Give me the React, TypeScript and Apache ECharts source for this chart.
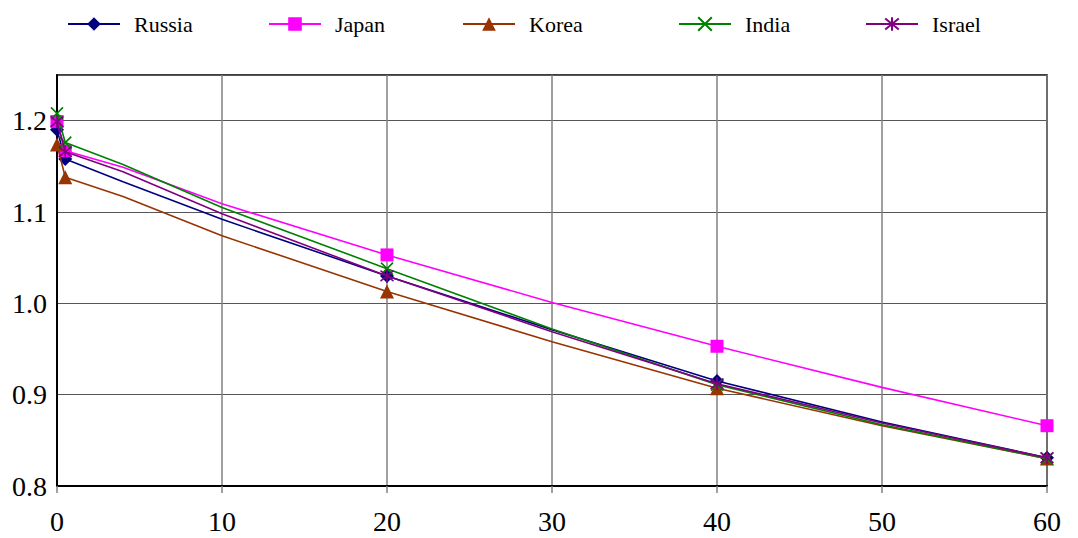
import React, { useEffect, useRef } from 'react';
import * as echarts from 'echarts';

const xValues = [0, 0.5, 4, 10, 20, 30, 40, 50, 60];
const markerX = [0, 0.5, 20, 40, 60];
const seriesNames = ['Russia', 'Japan', 'Korea', 'India', 'Israel'];
const russia = [1.19, 1.158, 1.133, 1.092, 1.03, 0.971, 0.915, 0.87, 0.831];
const japan = [1.199, 1.167, 1.149, 1.109, 1.053, 1.001, 0.953, 0.908, 0.866];
const korea = [1.174, 1.138, 1.117, 1.074, 1.013, 0.958, 0.907, 0.866, 0.83];
const india = [1.208, 1.176, 1.152, 1.105, 1.038, 0.972, 0.911, 0.867, 0.83];
const israel = [1.199, 1.166, 1.144, 1.098, 1.03, 0.969, 0.912, 0.869, 0.831];
const yTickLabels = ['0.8', '0.9', '1.0', '1.1', '1.2'];

const colors = ['#000080', '#FF00FF', '#993300', '#008000', '#800080'];
const symbols = [
  'diamond',
  'rect',
  'triangle',
  'path://M0,0L10,10M10,0L0,10',
  'path://M5,0L5,10M0,1L10,9M10,1L0,9',
];
const symbolSizes = [14, 13, 14, 12, 13];
const legendLeft = [67, 268, 462, 678, 865];

const FONT = '"Liberation Serif", "Times New Roman", serif';

export default function App() {
  const ref = useRef<HTMLDivElement>(null);
  useEffect(() => {
    if (!ref.current) return;
    const chart = echarts.init(ref.current, null, { renderer: 'svg' });
    const all = [russia, japan, korea, india, israel];
    const series = all.map((vals, i) => ({
      name: seriesNames[i],
      type: 'line',
      data: xValues.map((x, j) => [x, vals[j]]),
      symbol: symbols[i],
      symbolSize: (v: number[]) => (markerX.includes(v[0]) ? symbolSizes[i] : 0),
      showAllSymbol: true,
      lineStyle: { color: colors[i], width: 1.6 },
      itemStyle: {
        color: colors[i],
        borderColor: colors[i],
        borderWidth: i >= 3 ? 1.6 : 0,
      },
      z: 3 + i,
    }));
    chart.setOption({
      animation: false,
      textStyle: { fontFamily: FONT },
      legend: seriesNames.map((n, i) => ({
        data: [n],
        left: legendLeft[i],
        top: 13,
        padding: 0,
        itemWidth: 52,
        itemHeight: 17,
        textStyle: { fontFamily: FONT, fontSize: 22, color: '#000', padding: [0, 0, 0, 9] },
      })),
      grid: {
        left: 57,
        right: 31,
        top: 75,
        bottom: 52,
        show: true,
        borderColor: '#000',
        borderWidth: 1.5,
      },
      xAxis: {
        type: 'value',
        min: 0,
        max: 60,
        interval: 10,
        axisLine: { show: true, lineStyle: { color: '#000', width: 2 } },
        axisTick: { show: true, length: 7, lineStyle: { color: '#808080', width: 1.5 } },
        axisLabel: { fontFamily: FONT, fontSize: 28, color: '#000', margin: 21 },
        splitLine: { show: true, lineStyle: { color: '#808080', width: 1.5 } },
      },
      yAxis: {
        type: 'value',
        min: 0.8,
        max: 1.25,
        interval: 0.1,
        axisLine: { show: true, lineStyle: { color: '#000', width: 2 } },
        axisTick: { show: false },
        axisLabel: {
          fontFamily: FONT,
          fontSize: 28,
          color: '#000',
          margin: 10,
          formatter: (v: number) => {
            const idx = Math.round((v - 0.8) / 0.1);
            if (Math.abs(v - (0.8 + idx * 0.1)) > 0.001) return '';
            return yTickLabels[idx] ?? '';
          },
        },
        splitLine: { show: true, lineStyle: { color: '#555', width: 1.2 } },
      },
      series,
    });
    return () => chart.dispose();
  }, []);
  return (
    <div
      ref={ref}
      style={{ position: 'fixed', left: 0, top: 0, width: 1078, height: 538, background: '#fff' }}
    />
  );
}
